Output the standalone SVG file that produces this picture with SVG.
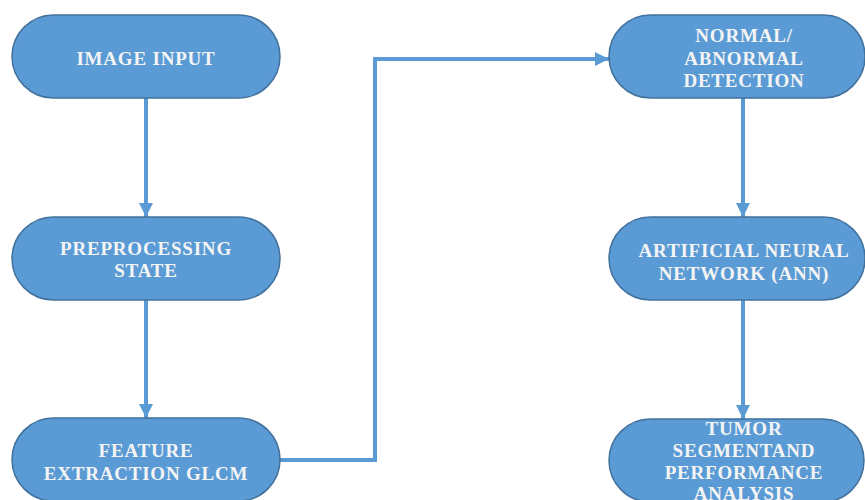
<svg xmlns="http://www.w3.org/2000/svg" width="865" height="500" viewBox="0 0 865 500">
<defs>
<style>
.node{fill:#5b9bd5;stroke:#41719c;stroke-width:1.5}
.lbl{font-weight:bold;font-size:19px;letter-spacing:0.8px;fill:#f4f4f4;text-anchor:middle}
.conn{fill:none;stroke:#5b9bd5;stroke-width:4}
</style>
<marker id="arr" markerUnits="userSpaceOnUse" markerWidth="14" markerHeight="14" viewBox="0 0 12 12" refX="12" refY="6" orient="auto">
<path d="M0,0 L12,6 L0,12 Z" fill="#5b9bd5"/>
</marker>
</defs>
<rect width="865" height="500" fill="#ffffff"/>
<g id="connectors">
<line class="conn" x1="146" y1="98" x2="146" y2="217" marker-end="url(#arr)"/>
<line class="conn" x1="146" y1="300" x2="146" y2="418" marker-end="url(#arr)"/>
<polyline class="conn" points="280,460 375,460 375,59 609,59" marker-end="url(#arr)"/>
<line class="conn" x1="743" y1="98" x2="743" y2="217" marker-end="url(#arr)"/>
<line class="conn" x1="743" y1="300" x2="743" y2="419" marker-end="url(#arr)"/>
</g>
<g font-family="'Liberation Serif', 'DejaVu Serif', serif">
<g id="node-image-input">
<rect class="node" x="12" y="15" width="268" height="83" rx="41.5"/>
<text class="lbl" x="146" y="65">IMAGE INPUT</text>
</g>
<g id="node-preprocessing">
<rect class="node" x="12" y="217" width="268" height="83" rx="41.5"/>
<text class="lbl" x="146" y="255">PREPROCESSING</text>
<text class="lbl" x="146" y="277">STATE</text>
</g>
<g id="node-feature">
<rect class="node" x="12" y="418" width="268" height="83" rx="41.5"/>
<text class="lbl" x="146" y="457">FEATURE</text>
<text class="lbl" x="146" y="480">EXTRACTION GLCM</text>
</g>
<g id="node-detection">
<rect class="node" x="609" y="15" width="256" height="83" rx="41.5"/>
<text class="lbl" x="744" y="42">NORMAL/</text>
<text class="lbl" x="744" y="65">ABNORMAL</text>
<text class="lbl" x="744" y="87">DETECTION</text>
</g>
<g id="node-ann">
<rect class="node" x="609" y="217" width="256" height="83" rx="41.5"/>
<text class="lbl" x="744" y="257">ARTIFICIAL NEURAL</text>
<text class="lbl" x="744" y="280">NETWORK (ANN)</text>
</g>
<g id="node-tumor">
<rect class="node" x="609" y="419" width="255" height="83" rx="41.5"/>
<text class="lbl" x="744" y="435">TUMOR</text>
<text class="lbl" x="744" y="457">SEGMENTAND</text>
<text class="lbl" x="744" y="479">PERFORMANCE</text>
<text class="lbl" x="744" y="500">ANALYSIS</text>
</g>
</g>
</svg>
